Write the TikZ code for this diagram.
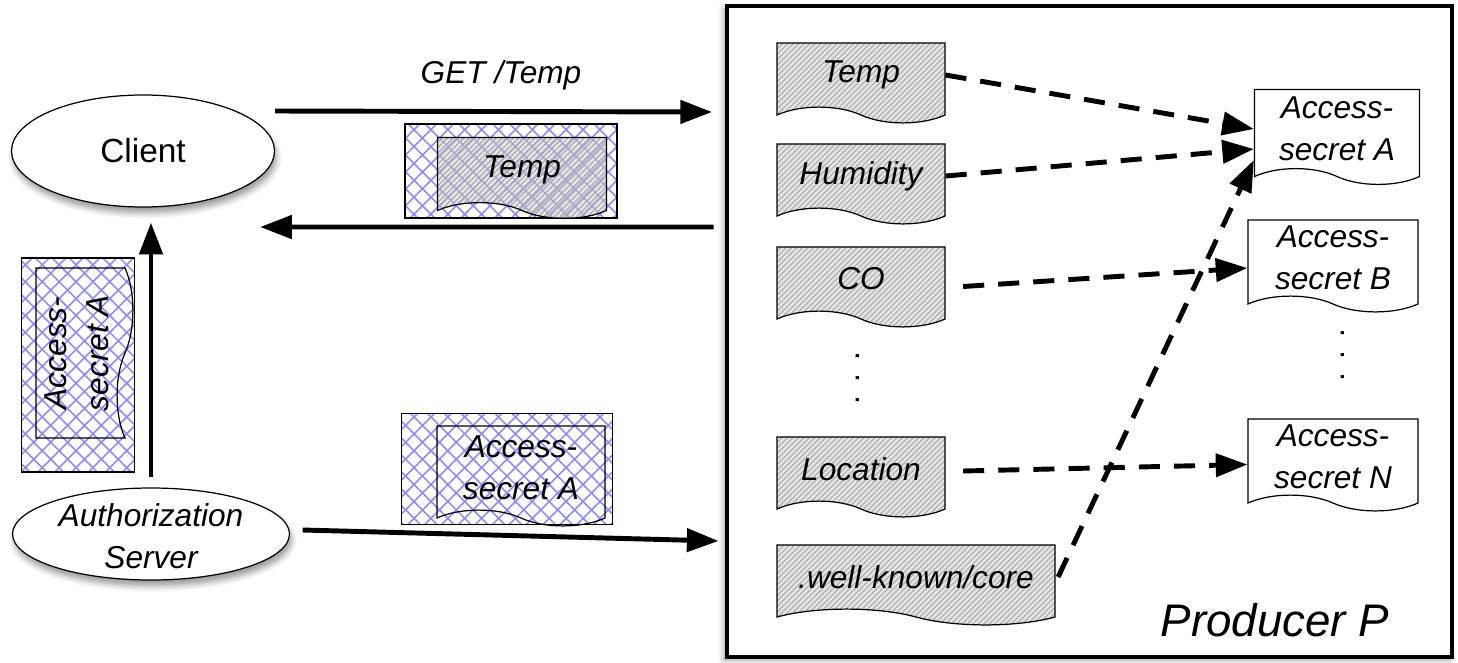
\documentclass[tikz,border=0pt]{standalone}
\usepackage{fontspec}
\setmainfont{Liberation Sans}
\usepackage{tikz}
\usetikzlibrary{arrows.meta, positioning, shapes.geometric, shapes.symbols, patterns.meta, shadows.blur}

\newcommand{\lbl}{\fontsize{18}{24}\selectfont}

\begin{document}
\begin{tikzpicture}[
  arr/.style={line width=2.8pt, -{Triangle[length=18pt,width=13pt]}},
  dasharr/.style={arr, dash pattern=on 12pt off 8pt},
  peer/.style={ellipse, draw, line width=0.7pt, fill=white, inner sep=0pt,
    blur shadow={shadow xshift=0.4mm, shadow yshift=-1.2mm, shadow blur radius=1.2mm}},
  doc/.style={tape, tape bend top=none, tape bend bottom=out and in, tape bend height=9pt,
    draw, line width=0.7pt, inner sep=0pt, align=center, font=\lbl\itshape},
  res/.style={doc, minimum width=3.36cm, minimum height=1.6cm,
    preaction={fill=gray!22},
    pattern={Lines[angle=45,distance=2.2pt,line width=0.6pt]}, pattern color=gray!65},
  secret/.style={doc, fill=white, minimum width=3.4cm},
  packet/.style={draw, line width=0.7pt, inner sep=0pt,
    preaction={fill=white},
    preaction={pattern={Lines[angle=45,distance=6.8pt,line width=0.9pt]}, pattern color=blue!45},
    preaction={pattern={Lines[angle=-45,distance=6.8pt,line width=0.9pt]}, pattern color=blue!45}},
  vdots/.style={rotate=90, font=\lbl},
]
\useasboundingbox (0,0) rectangle (29.16,-13.24);

% the producer and its resources
\node[draw, line width=2.8pt, fill=white, minimum width=14.5cm, minimum height=13.02cm,
  blur shadow={shadow xshift=-0.6mm, shadow yshift=-0.6mm, shadow blur radius=1.2mm}]
  (prod) at (21.79,-6.63) {};
\node[font=\fontsize{26}{30}\selectfont\itshape] (prodlbl) at (25.5,-12.4) {Producer P};

\node[res] (temp)  at (17.22,-1.5) {Temp};
\node[res] (humid) at (17.22,-3.52) {Humidity};
\node[res] (co)    at (17.22,-5.58) {CO};
\node[vdots] (resdots) at (17.15,-7.56) {.\hspace{7.5pt}.\hspace{7.5pt}.};
\node[res] (loc)   at (17.22,-9.38) {Location};
\node[res, minimum width=5.56cm] (core) at (18.32,-11.54) {.well-known/core};

\node[secret, minimum width=3.3cm, minimum height=1.9cm] (secA) at (26.74,-2.58) {Access-\\secret A};
\node[secret, minimum height=1.84cm] (secB) at (26.66,-5.16) {Access-\\secret B};
\node[vdots] (secdots) at (26.85,-7.1) {.\hspace{7.5pt}.\hspace{7.5pt}.};
\node[secret, minimum height=1.84cm] (secN) at (26.66,-9.14) {Access-\\secret N};

\draw[dasharr] (temp.east) -- (secA.west);
\draw[dasharr] (humid.east) -- ([yshift=-0.4cm]secA.west);
\draw[dasharr] ([xshift=0.35cm,yshift=-0.15cm]co.east) -- ([yshift=-0.2cm]secB.west);
\draw[dasharr] ([xshift=0.35cm,yshift=-0.04cm]loc.east) -- ([yshift=-0.15cm]secN.west);
\draw[dasharr] ([xshift=0.05cm]core.east) -- ([yshift=-0.62cm]secA.west);

% client and authorization server
\node[peer, minimum width=5.26cm, minimum height=2.24cm, font=\fontsize{19}{24}\selectfont] (client) at (2.86,-3.02) {Client};
\node[peer, minimum width=5.54cm, minimum height=1.84cm] (auth) at (3.02,-10.68) {};
\node[align=center, font=\lbl\itshape] (authlbl) at (3.02,-10.72) {Authorization\\Server};

% request / response
\node[font=\lbl\itshape] (getlbl) at (10.02,-1.5) {GET /Temp};
\draw[arr] ([yshift=0.8cm]client.east) -- ([xshift=-0.25cm,yshift=4.39cm]prod.west);
\node[packet, minimum width=4.24cm, minimum height=1.88cm] (resppkt) at (10.22,-3.42) {};
\node[doc, minimum width=3.38cm, minimum height=1.62cm,
  preaction={fill=gray!40, fill opacity=0.5},
  pattern={Lines[angle=45,distance=2.2pt,line width=0.6pt]}, pattern color=gray!70]
  (respdoc) at (10.44,-3.4) {Temp};
\draw[arr] ([xshift=-0.22cm,yshift=2.09cm]prod.west) -- ([xshift=-0.3cm,yshift=-1.52cm]client.east);

% token handed to the client
\node[packet, minimum width=2.26cm, minimum height=4.28cm] (clipkt) at (1.56,-7.3) {};
\node[doc, rotate=90, minimum width=3.4cm, minimum height=1.94cm] (clidoc) at (1.53,-7.06) {Access-\\secret A};
\draw[arr] ([yshift=0.2cm]auth.north) -- ([yshift=-0.3cm]auth.north |- client.south);

% token handed to the producer
\node[packet, minimum width=4.22cm, minimum height=2.22cm] (prodpkt) at (10.14,-9.38) {};
\node[doc, minimum width=3.36cm, minimum height=2.0cm] (proddoc) at (10.42,-9.36) {Access-\\secret A};
\draw[arr] ([xshift=0.25cm,yshift=0.08cm]auth.east) -- ([xshift=-0.12cm,yshift=-4.19cm]prod.west);
\end{tikzpicture}
\end{document}
